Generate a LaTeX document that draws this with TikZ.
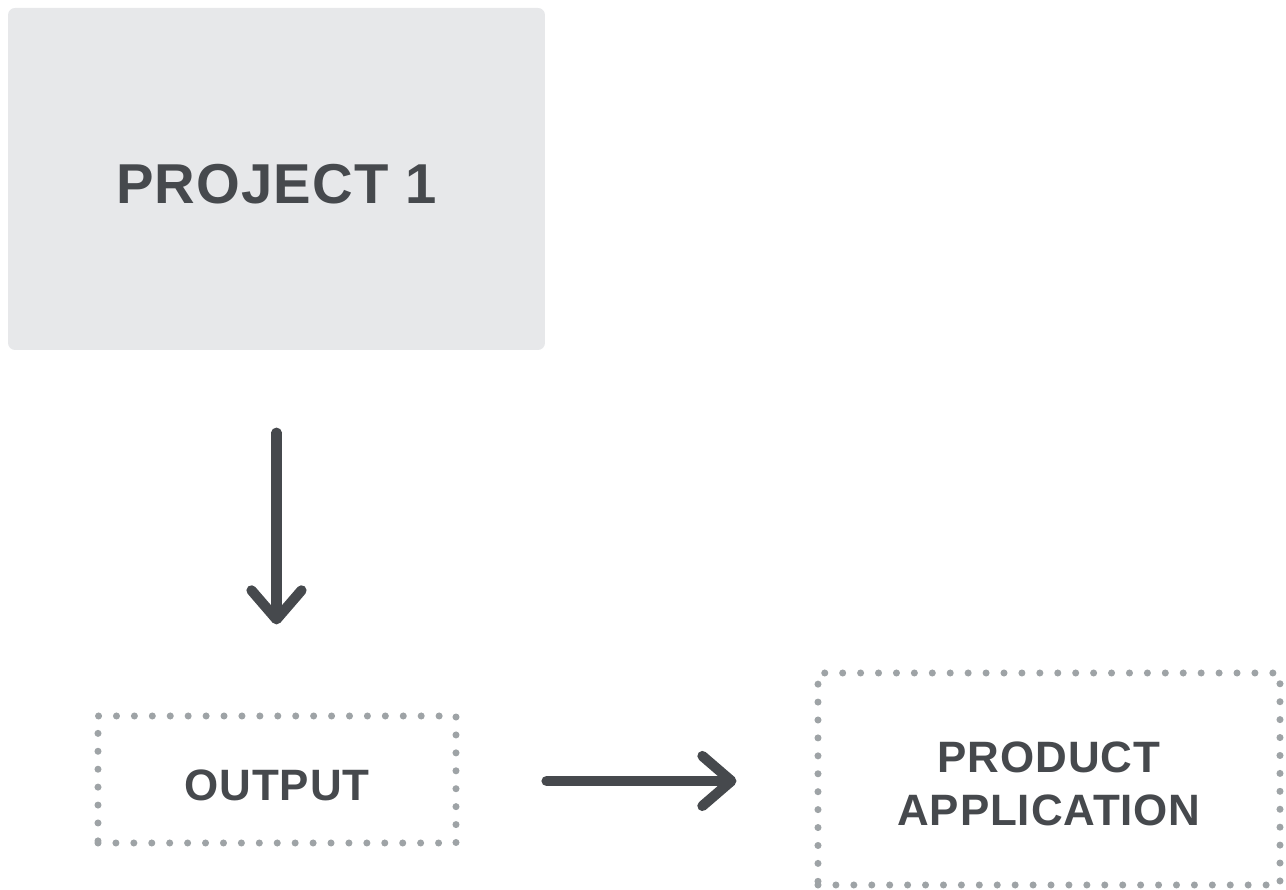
\documentclass[tikz,border=0pt]{standalone}
\usepackage{fontspec}
\setmainfont{Liberation Sans}
\newfontfamily\boxfont[LetterSpace=2]{Liberation Sans}
\usetikzlibrary{positioning,arrows.meta}
\definecolor{pfill}{RGB}{231,232,234}
\definecolor{pink}{RGB}{70,73,77}
\definecolor{pdot}{RGB}{158,163,166}

\begin{document}
\begin{tikzpicture}[
  every node/.style={text=pink,font=\boxfont\bfseries},
  project/.style={fill=pfill,rounded corners=2pt,minimum width=5.37cm,minimum height=3.42cm,font=\boxfont\bfseries\fontsize{16}{19}\selectfont},
  result/.style={draw=pdot,line width=2pt,line cap=round,dash pattern=on 0pt off 5.1pt,align=center,font=\boxfont\bfseries\fontsize{12.5}{15}\selectfont},
  flow/.style={pink,line width=2.9pt,line cap=round,-{Straight Barb[length=2.9mm,width=5.0mm,line cap=round,line join=round]}}]

\useasboundingbox (0,0) rectangle (12.86,-8.90);

% nodes
\node[project,text height=4.9mm,text depth=0pt] (proj) at (2.765,-1.79) {PROJECT 1};
\node[result,text height=4.2mm,text depth=0pt,minimum width=3.58cm,minimum height=1.27cm] (out) at (2.77,-7.795) {OUTPUT};
\node[result,text height=9.4mm,text depth=0pt,minimum width=4.62cm,minimum height=2.12cm] (prod) at (10.49,-7.79) {PRODUCT\\[0.3pt]APPLICATION};

% arrows
\draw[flow,shorten <=0.82cm,shorten >=0.88cm] (proj.south) -- (proj.south |- out.north);
\draw[flow,shorten <=0.87cm,shorten >=0.78cm] ([yshift=-0.15mm]out.east) -- ([yshift=-0.15mm]out.east -| prod.west);
\end{tikzpicture}
\end{document}
